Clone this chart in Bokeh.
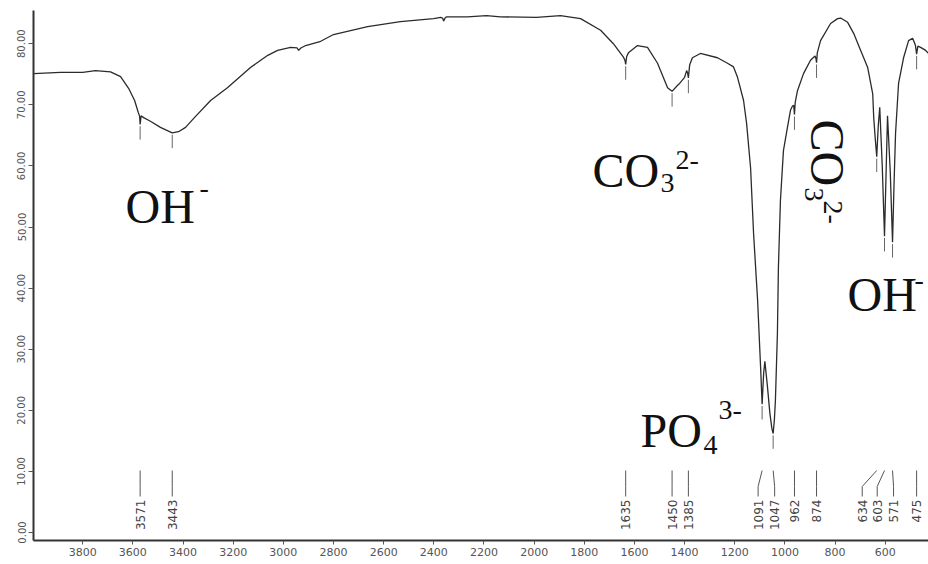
from math import pi
import numpy as np
from bokeh.plotting import figure
from bokeh.models import Range1d, FixedTicker, NumeralTickFormatter
from bokeh.core.properties import value
from bokeh.embed import file_html
from bokeh.resources import INLINE

# ---------------- data ----------------
wavenumber = [3996, 3889, 3800, 3749, 3689, 3649, 3617, 3593, 3578, 3573, 3571, 3567, 3557,
              3530, 3490, 3443, 3418, 3390, 3350, 3290, 3223, 3131, 3062, 3023, 2971, 2945,
              2939, 2930, 2911, 2851, 2800, 2664, 2533, 2401, 2373, 2365, 2361, 2355, 2349,
              2266, 2190, 2134, 1991, 1895, 1815, 1735, 1684, 1644, 1638, 1635, 1631, 1624,
              1588, 1548, 1508, 1468, 1450, 1428, 1420, 1400, 1392, 1388, 1385, 1380, 1369,
              1337, 1269, 1229, 1205, 1189, 1165, 1153, 1137, 1125, 1109, 1097, 1091, 1085,
              1080, 1070, 1060, 1052, 1047, 1042, 1038, 1030, 1026, 1018, 1006, 990, 978,
              970, 965, 962, 959, 950, 926, 898, 880, 876, 874, 871, 858, 818, 790, 778,
              750, 726, 698, 670, 650, 646, 640, 634, 628, 622, 612, 603, 596, 591, 580,
              571, 565, 559, 547, 527, 507, 491, 480, 475, 470, 459, 439, 427]
transmittance = [75.1, 75.3, 75.3, 75.6, 75.4, 74.6, 72.7, 70.7, 68.7, 68.1, 66.8, 68.2, 67.9,
                 67.3, 66.3, 65.4, 65.6, 66.3, 68.1, 70.7, 72.8, 76.1, 78.1, 78.9, 79.4, 79.3,
                 78.9, 79.3, 79.7, 80.4, 81.5, 82.8, 83.6, 84.1, 84.3, 84.2, 83.7, 84.2, 84.4,
                 84.4, 84.6, 84.4, 84.3, 84.6, 84.1, 82.2, 80.0, 77.8, 77.3, 76.6, 77.9, 78.5,
                 79.7, 79.4, 76.8, 72.8, 72.2, 73.2, 73.5, 74.5, 75.6, 75.2, 74.4, 76.5, 77.7,
                 78.4, 77.7, 76.8, 76.2, 74.5, 70.7, 67.0, 59.7, 48.9, 38.0, 27.0, 21.0, 26.0,
                 28.0, 24.0, 19.5, 17.0, 16.2, 18.5, 21.6, 32.6, 43.4, 54.3, 62.5, 66.3, 69.1,
                 69.8, 69.9, 68.4, 70.4, 72.3, 75.1, 77.3, 78.0, 77.5, 76.9, 78.5, 80.5, 83.3,
                 84.1, 84.2, 83.5, 81.7, 78.9, 76.1, 71.8, 67.9, 64.5, 61.5, 66.5, 69.6, 60.0,
                 48.5, 60.0, 68.2, 59.0, 47.5, 57.0, 65.3, 73.5, 77.7, 80.5, 80.9, 79.8, 78.3,
                 79.6, 79.4, 78.9, 78.4]

peak_wavenumbers = [3571, 3443, 1635, 1450, 1385, 1091, 1047, 962, 874, 634, 603, 571, 475]
peak_labels = ["3571", "3443", "1635", "1450", "1385", "1091", "1047", "962", "874",
               "634", "603", "571", "475"]

x_ticks = [3800, 3600, 3400, 3200, 3000, 2800, 2600, 2400, 2200, 2000, 1800, 1600,
           1400, 1200, 1000, 800, 600]
y_ticks = [0, 10, 20, 30, 40, 50, 60, 70, 80]

# ---------------- layout helpers (pixels -> data) ----------------
PX_PER_WN = 0.2508
X_REF_PX = 82.2      # x pixel of 3800 cm-1
T_ZERO_PX = 532.0    # y pixel of 0 %T
PX_PER_T = 6.11


def wn_at(px):
    return 3800 - (px - X_REF_PX) / PX_PER_WN


def t_at(py):
    return (T_ZERO_PX - py) / PX_PER_T


label_shift_px = {1091: -4.0, 1047: 1.5, 634: -14.5, 603: -7.3, 571: 1.0}

p = figure(width=928, height=564,
           x_range=Range1d(wn_at(33), wn_at(928)),
           y_range=Range1d(t_at(540), t_at(10)),
           output_backend="svg", toolbar_location=None,
           min_border_left=33, min_border_right=0, min_border_top=10, min_border_bottom=24)
p.outline_line_color = None
p.xgrid.visible = False
p.ygrid.visible = False
p.background_fill_color = "white"
p.border_fill_color = "white"

# axes
for ax in (p.xaxis[0], p.yaxis[0]):
    ax.axis_line_color = "#333333"
    ax.axis_line_width = 2
    ax.major_tick_line_color = "#555555"
    ax.major_tick_in = 0
    ax.minor_tick_in = 0
    ax.minor_tick_out = 0
    ax.major_label_text_color = "#555555"
    ax.major_label_text_font = "DejaVu Sans"

p.xaxis.ticker = FixedTicker(ticks=x_ticks)
p.xaxis.major_tick_out = 4
p.xaxis.major_label_standoff = 3
p.xaxis.major_label_text_font_size = "11px"

p.yaxis.ticker = FixedTicker(ticks=y_ticks)
p.yaxis.formatter = NumeralTickFormatter(format="0.00")
p.yaxis.major_label_orientation = "vertical"
p.yaxis.major_tick_out = 5
p.yaxis.major_label_standoff = 3
p.yaxis.major_label_text_font_size = "10px"

# spectrum
p.line(wavenumber, transmittance, line_color="#2b2b2b", line_width=1.3)

# small peak markers under the curve
wn_arr = np.array(wavenumber, dtype=float)
t_arr = np.array(transmittance, dtype=float)
t_peak = np.interp(peak_wavenumbers, wn_arr[::-1], t_arr[::-1])
p.segment(x0=peak_wavenumbers, y0=[t - 0.3 for t in t_peak],
          x1=peak_wavenumbers, y1=[t - 2.5 for t in t_peak],
          line_color="#666666", line_width=1)

# bottom peak-label connectors and labels
label_x = [w - label_shift_px.get(w, 0.0) / PX_PER_WN for w in peak_wavenumbers]
xs = [[w, lw, lw] for w, lw in zip(peak_wavenumbers, label_x)]
ys = [[t_at(470), t_at(486), t_at(496)] for _ in peak_wavenumbers]
p.multi_line(xs, ys, line_color="#555555", line_width=1)
p.text(x=label_x, y=[t_at(499)] * len(label_x), text=peak_labels, angle=pi / 2,
       text_align="right", text_baseline="middle",
       text_font=value("DejaVu Sans"), text_font_size="12px", text_color="#444444")

# ion annotations: (text, x of start, baseline, font px, rotated clockwise?)
BIG, SMALL = 48, 28
annotations = [
    ("OH", 125, 223, BIG, False),
    ("-", 199, 198, SMALL, False),
    ("CO", 592, 187, BIG, False),
    ("3", 660, 193, SMALL, False),
    ("2-", 675, 170, SMALL, False),
    ("PO", 640, 447, BIG, False),
    ("4", 703, 455, SMALL, False),
    ("3-", 718, 420, SMALL, False),
    ("OH", 847, 311, BIG, False),
    ("-", 914, 290, SMALL, False),
    # vertical CO3 2- : (baseline x, start y)
    ("CO", 810, 119, BIG, True),
    ("3", 803, 187, SMALL, True),
    ("2-", 822, 200, SMALL, True),
]
for txt, px, py, size, rot in annotations:
    corr = 0.36 * size   # renderer places the "alphabetic" anchor ~0.36em too low
    if rot:
        ax_px, ay_px, ang = px + corr, py, -pi / 2
    else:
        ax_px, ay_px, ang = px, py - corr, 0.0
    p.text(x=[wn_at(ax_px)], y=[t_at(ay_px)], text=[txt], angle=ang,
           text_align="left", text_baseline="alphabetic",
           text_font=value("Liberation Serif"), text_font_size=f"{size}px",
           text_color="#111111")

open("out.html", "w").write(file_html(p, INLINE))
